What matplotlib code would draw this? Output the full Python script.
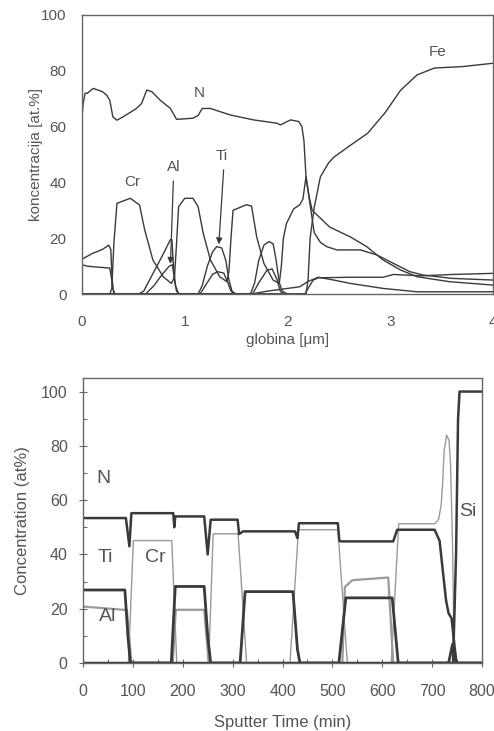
import matplotlib
matplotlib.use("Agg")
import matplotlib.pyplot as plt
from matplotlib.ticker import MultipleLocator

plt.rcParams['font.family'] = ['Liberation Sans', 'DejaVu Sans']

# ---------------- top panel data (depth in um, at.%) ----------------
top_xlabel = "globina [\u03bcm]"
top_ylabel = "koncentracija [at.%]"
top_xticks = [0, 1, 2, 3, 4]
top_yticks = [0, 20, 40, 60, 80, 100]

n_x = [0.0, 0.01, 0.03, 0.05, 0.11, 0.2, 0.24, 0.27, 0.30, 0.34, 0.40, 0.53, 0.58, 0.63, 0.68,
       0.76, 0.86, 0.92, 1.0, 1.08, 1.13, 1.17, 1.25, 1.44, 1.67, 1.90, 1.93, 2.03, 2.11,
       2.14, 2.16, 2.18, 2.22, 2.26, 2.32, 2.38, 2.48, 2.71, 2.87, 3.03, 3.19, 3.32, 3.6, 4.0]
n_y = [63, 68, 72, 71.9, 73.7, 72.5, 71.3, 69.5, 63.5, 62.3, 63.5, 66.5, 68.3, 73.1, 72.5,
       69.5, 66.5, 62.6, 62.8, 63, 64, 66.5, 66.5, 64.2, 62.4, 61.2, 60.6, 62.4, 61.8,
       60, 55, 42, 32, 22, 18.5, 17, 15.8, 15.8, 14, 11, 8, 6.8, 5.6, 5]

cr_x = [0.0, 0.27, 0.29, 0.31, 0.34, 0.47, 0.56, 0.61, 0.69, 0.79, 0.87, 0.90, 0.92, 0.94,
        1.0, 1.08, 1.13, 1.18, 1.25, 1.34, 1.41, 1.43, 1.45, 1.47, 1.6, 1.65, 1.70, 1.77,
        1.86, 1.92, 1.94, 1.96, 1.99, 2.06, 2.12, 2.15, 2.18, 2.21, 2.24, 2.41, 2.61, 2.77,
        2.93, 3.1, 3.26, 3.58, 4.0]
cr_y = [0, 0, 2, 18, 32.5, 34.3, 31.9, 23, 12.2, 6.2, 3.8, 6, 18, 31.3,
        34.3, 34.3, 31.3, 21.7, 12.2, 6.2, 4.4, 8, 20, 30, 32, 31.5, 20.5, 11,
        5, 3.8, 10, 20, 25.3, 30.5, 32, 34, 42, 35, 30, 24, 20.5, 17,
        12.2, 8.6, 6.2, 4.4, 3.2]

ti_x = [0.0, 0.1, 0.2, 0.26, 0.28, 0.29, 0.30, 0.32, 0.55, 0.6, 0.7, 0.8, 0.86, 0.875, 0.89,
        0.91, 0.94, 1.13, 1.17, 1.22, 1.27, 1.31, 1.36, 1.40, 1.43, 1.46, 1.5, 1.64, 1.68,
        1.72, 1.77, 1.82, 1.86, 1.89, 1.92, 1.95, 2.0]
ti_y = [12.5, 14.5, 16, 17.5, 16, 8, 2, 0, 0, 1, 8, 15, 19.5, 19.5, 10,
        3, 0, 0, 3, 10, 15, 17, 16.5, 12, 5, 1, 0, 0, 4,
        12, 17.5, 18.8, 18, 12, 4, 1, 0]

al_x = [0.0, 0.05, 0.1, 0.2, 0.27, 0.29, 0.31, 0.62, 0.7, 0.78, 0.85, 0.88, 0.9, 0.92, 0.95,
        1.15, 1.2, 1.27, 1.32, 1.38, 1.42, 1.45, 1.48, 1.66, 1.72, 1.8, 1.85, 1.9, 1.93, 1.96]
al_y = [10.5, 10, 9.8, 9.5, 9.3, 5, 0, 0, 3, 7, 10, 10.5, 5, 1, 0,
        0, 3, 7, 8, 7.5, 4, 1, 0, 0, 4, 8.5, 9, 5, 1, 0]

fe_x = [0.0, 2.18, 2.2, 2.22, 2.26, 2.32, 2.4, 2.45, 2.6, 2.78, 2.95, 3.1, 3.26, 3.43, 3.7, 4.0]
fe_y = [0, 0, 5, 20, 31, 42, 47, 49, 53, 57.6, 65, 73, 78.5, 81, 81.5, 82.7]

o1_x = [0.0, 1.65, 1.8, 2.0, 2.12, 2.2, 2.3, 2.45, 2.61, 2.93, 3.26, 4.0]
o1_y = [0, 0, 1, 2, 2.6, 4.5, 6, 5, 3.8, 2, 0.8, 0.8]

o2_x = [0.0, 2.17, 2.2, 2.25, 2.3, 2.6, 2.93, 3.03, 3.3, 3.6, 4.0]
o2_y = [0, 0, 2, 5, 5.8, 6, 6, 7, 6.5, 7, 7.4]

top_labels = [("N", 1.14, 72), ("Cr", 0.49, 40), ("Al", 0.89, 45.6), ("Ti", 1.36, 49.5), ("Fe", 3.46, 86.9)]
top_arrows = [((0.89, 41.5), (0.86, 9.8)), ((1.38, 45.5), (1.33, 16.8))]

# ---------------- bottom panel data (sputter time in min, at%) ----------------
bot_xlabel = "Sputter Time (min)"
bot_ylabel = "Concentration (at%)"
bot_xticks = [0, 100, 200, 300, 400, 500, 600, 700, 800]
bot_yticks = [0, 20, 40, 60, 80, 100]

bn_t = [0, 86, 93, 97, 181, 183, 185, 243, 250, 256, 310, 313, 321, 425, 430, 433, 511, 514,
        517, 622, 626, 630, 705, 715, 722, 728, 733, 739, 745, 749, 800]
bn_c = [53.4, 53.4, 43, 55.2, 55.2, 50, 54, 54, 40, 52.8, 52.8, 47.5, 48.5, 48.5, 46, 51.5, 51.5, 45,
        44.8, 44.8, 47, 49.1, 49.1, 45, 33, 23, 18.3, 16.5, 6, 0, 0]

bcr_t = [0, 91, 101, 178, 188, 252, 261, 311, 328, 415, 432, 511, 530, 618, 633, 706, 713,
         718, 721, 724, 729, 734, 737, 741, 743, 746, 800]
bcr_c = [0, 0, 45.1, 45.1, 0, 0, 47.6, 47.6, 0, 0, 49.1, 49.1, 0, 0, 51.3, 51.3, 53,
         58, 66, 78, 84, 82, 73, 43, 18, 0, 0]

bti_t = [0, 84, 90, 95, 177, 185, 243, 250, 256, 315, 325, 421, 430, 435, 513, 527, 620, 632,
         733, 741, 748, 800]
bti_c = [26.9, 26.9, 10, 0, 0, 28.2, 28.2, 10, 0, 0, 26.3, 26.3, 5, 0, 0, 24, 24, 0,
         0, 7, 0, 0]

bal_t = [0, 88, 97, 180, 186, 243, 252, 520, 525, 540, 612, 622, 800]
bal_c = [20.8, 19.5, 0, 0, 19.6, 19.6, 0, 0, 28, 30.5, 31.5, 0, 0]

bsi_t = [0, 742, 748, 752, 755, 800]
bsi_c = [0, 0, 40, 90, 100, 100]

bot_labels = [("N", 40, 68), ("Ti", 44, 38.7), ("Cr", 144, 38.7), ("Al", 50, 17), ("Si", 772, 55.7)]

# ---------------- drawing ----------------
ink = "#3a3a3a"
light = "#9a9a9a"
txt = "#555555"
spine_c = "#666666"

fig = plt.figure(figsize=(4.94, 7.31), dpi=100)

ax1 = fig.add_axes([82 / 494, 1 - 294 / 731, (493 - 82) / 494, (294 - 15) / 731])
for xs, ys in [(o1_x, o1_y), (o2_x, o2_y), (al_x, al_y), (ti_x, ti_y), (cr_x, cr_y), (fe_x, fe_y), (n_x, n_y)]:
    ax1.plot(xs, ys, color=ink, lw=1.0, solid_joinstyle="round")
ax1.set_xlim(0, 4)
ax1.set_ylim(0, 100)
ax1.set_xticks(top_xticks)
ax1.set_yticks(top_yticks)
ax1.tick_params(length=0, labelsize=11, labelcolor=txt)
ax1.tick_params(axis="y", pad=11)
ax1.tick_params(axis="x", pad=15)
ax1.set_xlabel(top_xlabel, fontsize=11, color=txt, labelpad=3)
ax1.set_ylabel(top_ylabel, fontsize=11, color=txt, labelpad=-1)
for s in ax1.spines.values():
    s.set_color(spine_c)
    s.set_linewidth(1.0)
for lab, x, y in top_labels:
    ax1.text(x, y, lab, fontsize=11, color=txt, ha="center", va="center")
for (x0, y0), (x1, y1) in top_arrows:
    ax1.annotate("", xy=(x1, y1), xytext=(x0, y0),
                 arrowprops=dict(arrowstyle="-|>", color=ink, lw=0.9, mutation_scale=9))

ax2 = fig.add_axes([83 / 494, 1 - 663 / 731, (482 - 83) / 494, (663 - 378) / 731])
ax2.plot(bal_t, bal_c, color=light, lw=1.6)
ax2.plot(bcr_t, bcr_c, color=light, lw=1.0)
ax2.plot(bti_t, bti_c, color=ink, lw=2.0)
ax2.plot(bn_t, bn_c, color=ink, lw=1.8)
ax2.plot(bsi_t, bsi_c, color=ink, lw=1.8)
ax2.set_xlim(0, 800)
ax2.set_ylim(0, 105)
ax2.set_xticks(bot_xticks)
ax2.set_yticks(bot_yticks)
ax2.xaxis.set_minor_locator(MultipleLocator(50))
ax2.yaxis.set_minor_locator(MultipleLocator(10))
ax2.tick_params(which="major", direction="inout", length=6, width=0.8, color=spine_c,
                labelsize=11.5, labelcolor=txt)
ax2.tick_params(which="minor", direction="in", length=3, width=0.8, color=spine_c)
ax2.tick_params(axis="y", which="major", pad=8)
ax2.tick_params(axis="x", which="major", pad=12)
ax2.set_xlabel(bot_xlabel, fontsize=12, color=txt, labelpad=12)
ax2.set_ylabel(bot_ylabel, fontsize=12, color=txt, labelpad=8)
for s in ax2.spines.values():
    s.set_color(spine_c)
    s.set_linewidth(1.0)
for lab, x, y in bot_labels:
    ax2.text(x, y, lab, fontsize=14, color=txt, ha="center", va="center")

fig.savefig("out.png", dpi=100)
